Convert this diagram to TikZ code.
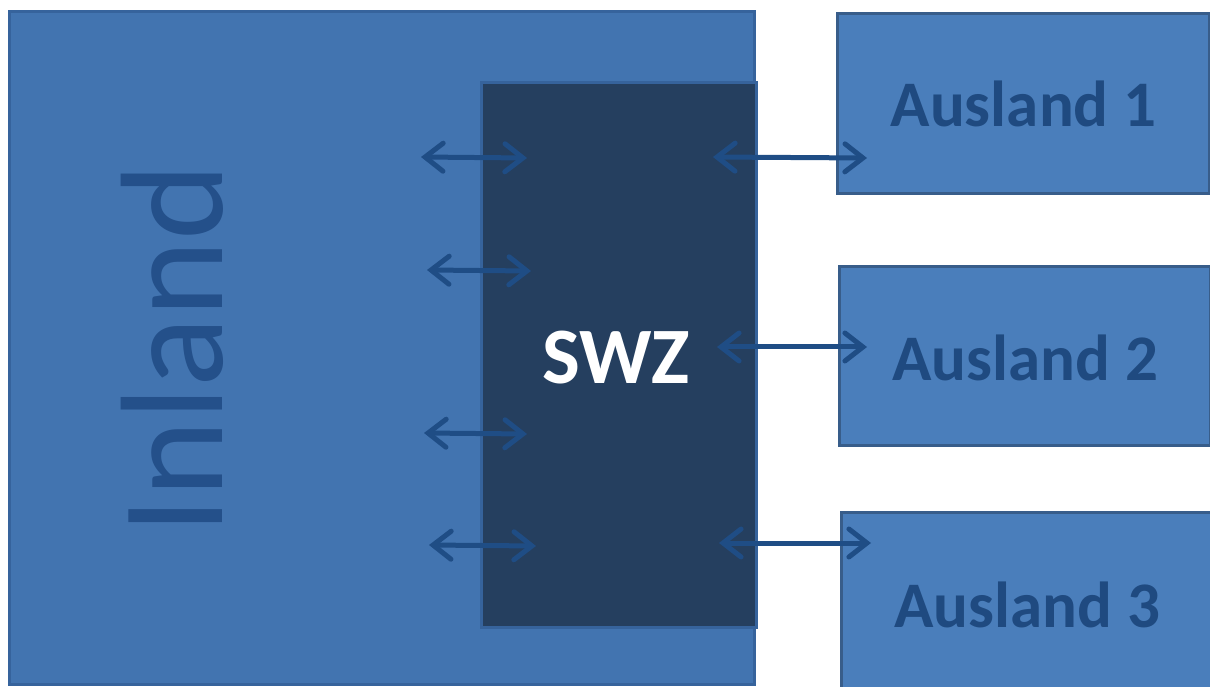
\documentclass[tikz,border=0pt]{standalone}
\usepackage{fontspec}
\setmainfont{Carlito}
\usetikzlibrary{arrows.meta}
\definecolor{inlandfill}{HTML}{4274B0}
\definecolor{inlandline}{HTML}{36639C}
\definecolor{swzfill}{HTML}{253F5F}
\definecolor{auslfill}{HTML}{4A7EBB}
\definecolor{auslline}{HTML}{385D8A}
\definecolor{arrowcol}{HTML}{1F4D85}
\definecolor{inlandtext}{HTML}{24508A}
\definecolor{ausltext}{HTML}{1F4A80}
\tikzset{
  box/.style={draw=auslline, line width=3pt, inner sep=0pt},
  biarrow/.style={arrowcol, line width=5pt, {Straight Barb[length=18pt,width=28pt,line cap=round]}-{Straight Barb[length=18pt,width=28pt,line cap=round]}, line cap=round},
  ausl/.style={text=ausltext, font=\bfseries\fontsize{65}{65}\selectfont},
}
\begin{document}
\begin{tikzpicture}[x=1pt,y=1pt]
\useasboundingbox (0,0) rectangle (1210,686);
% Inland
\path[box, draw=inlandline, fill=inlandfill] (9,2) rectangle (754,674);
\node[rotate=90, anchor=base, text=inlandtext, font=\fontsize{146}{146}\selectfont] (inl) at (222,337) {Inland};
% SWZ
\path[box, draw=inlandline, fill=swzfill] (481,59) rectangle (756,603);
\node[text=white, font=\bfseries\fontsize{80}{80}\selectfont] (swz) at (616,328) {SWZ};
% Ausland boxes
\node[box, fill=auslfill, minimum width=372pt, minimum height=180pt, anchor=north west] (a1) at (836,674) {};
\node[ausl] (t1) at (a1.center) [yshift=0pt] {Ausland 1};
\node[box, fill=auslfill, minimum width=371pt, minimum height=179pt, anchor=north west] (a2) at (838,421) {};
\node[ausl] (t2) at (a2.center) [yshift=-2pt] {Ausland 2};
\node[box, fill=auslfill, minimum width=371pt, minimum height=180pt, anchor=north west] (a3) at (840,175) {};
\node[ausl] (t3) at (a3.center) [yshift=-2pt] {Ausland 3};
% coordinates for arrows
\coordinate (l1a) at (421,529); \coordinate (l1b) at (527,528);
\coordinate (l2a) at (427,416); \coordinate (l2b) at (531,415);
\coordinate (l3a) at (424,253); \coordinate (l3b) at (527,252);
\coordinate (l4a) at (429,141); \coordinate (l4b) at (536,140);
\coordinate (r1a) at (713,529); \coordinate (r1b) at (867,528);
\coordinate (r2a) at (717,339); \coordinate (r2b) at (867,339);
\coordinate (r3a) at (719,143); \coordinate (r3b) at (871,143);
\draw[biarrow] (l1a) -- (l1b);
\draw[biarrow] (l2a) -- (l2b);
\draw[biarrow] (l3a) -- (l3b);
\draw[biarrow] (l4a) -- (l4b);
\draw[biarrow] (r1a) -- (r1b);
\draw[biarrow] (r2a) -- (r2b);
\draw[biarrow] (r3a) -- (r3b);
\end{tikzpicture}
\end{document}
